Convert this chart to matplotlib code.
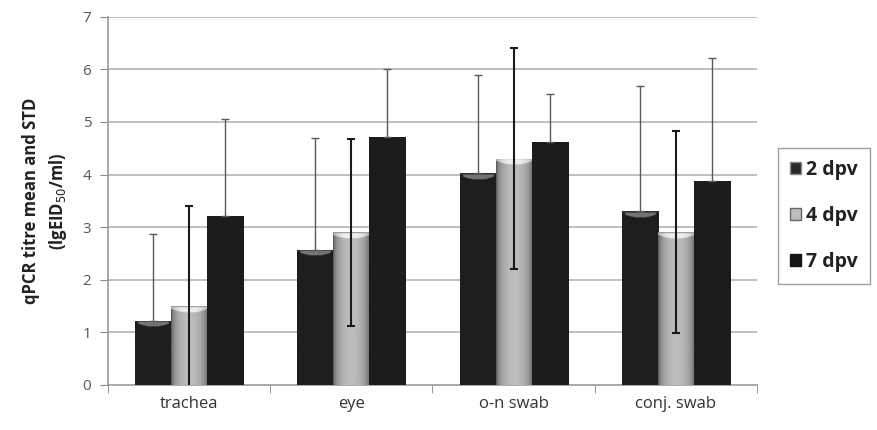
import numpy as np
import matplotlib
matplotlib.use("Agg")
import matplotlib.pyplot as plt
from matplotlib.patches import Patch

plt.rcParams['font.family'] = ['Open Sans', 'DejaVu Sans']

categories = ["trachea", "eye", "o-n swab", "conj. swab"]
series = ["2 dpv", "4 dpv", "7 dpv"]
means_2dpv = [1.22, 2.57, 4.03, 3.30]
means_4dpv = [1.50, 2.90, 4.30, 2.90]
means_7dpv = [3.22, 4.72, 4.62, 3.88]
std_2dpv = [1.65, 2.13, 1.87, 2.38]
std_4dpv = [1.90, 1.78, 2.10, 1.92]
std_7dpv = [1.83, 1.28, 0.91, 2.33]
yticks = [0, 1, 2, 3, 4, 5, 6, 7]

fig = plt.figure(figsize=(8.78, 4.30), dpi=100)
ax = fig.add_axes([0.123, 0.105, 0.739, 0.856])

x = np.arange(len(categories))
w = 0.222
offsets = [-w, 0, w]
means = [means_2dpv, means_4dpv, means_7dpv]
stds = [std_2dpv, std_4dpv, std_7dpv]

for gl in yticks[1:]:
    ax.axhline(gl, color='#b4b4b4', lw=1.2, zorder=0)

def bar_image(h, kind):
    ny = max(int(h / 0.01), 4)
    nx = 60
    xs = np.linspace(-1, 1, nx)
    ys = np.linspace(0, h, ny)
    X, Y = np.meshgrid(xs, ys)
    depth = h - Y
    if kind == 1:
        img = 0.32 + 0.42 * np.sqrt(np.clip(1 - X**2, 0, 1))
        cap = 0.05 + 0.07 * (1 - X**2)
        img = np.where(depth < cap, 0.93 - 0.25 * np.abs(X)**3, img)
        img = np.where(depth < 0.02, 0.6, img)
    elif kind == 0:
        img = np.full_like(X, 0.12)
        cap = 0.04 + 0.08 * (1 - X**2)
        img = np.where((depth < cap) & (np.abs(X) < 0.85), 0.45, img)
        img = np.where(depth < 0.025, 0.2, img)
    else:
        img = np.full_like(X, 0.11)
    return img

for i, (m, s) in enumerate(zip(means, stds)):
    fc = ['#1e1e1e', '#a8a8a8', '#1a1a1a'][i]
    bars = ax.bar(x + offsets[i], m, width=w, color=fc, edgecolor='none', zorder=2,
                  label=series[i])
    for rect in bars:
        x0, y0 = rect.get_x(), rect.get_y()
        bw, bh = rect.get_width(), rect.get_height()
        img = bar_image(bh, i)
        im = ax.imshow(img, extent=[x0, x0 + bw, y0, y0 + bh], origin='lower',
                       aspect='auto', cmap='gray', vmin=0, vmax=1, zorder=3,
                       interpolation='bilinear')
        im.set_clip_path(rect)

for i, (m, s) in enumerate(zip(means, stds)):
    col = ['#5a5a5a', '#1a1a1a', '#5a5a5a'][i]
    lw = [1.0, 1.5, 1.0][i]
    if i == 1:
        yerr = s
    else:
        yerr = [np.zeros(len(s)), s]
    ax.errorbar(x + offsets[i], m, yerr=yerr, fmt='none', ecolor=col, elinewidth=lw,
                capsize=3, capthick=lw, zorder=5)

ax.set_xlim(-0.5, len(categories) - 0.5)
ax.set_ylim(0, 7)
ax.set_yticks(yticks)
ax.set_yticklabels([str(t) for t in yticks], fontsize=11, color='#555555')
ax.set_xticks(x)
ax.set_xticklabels(categories, fontsize=12, color='#333333')
ax.tick_params(axis='x', length=0, pad=8)
ax.set_xticks(np.arange(-0.5, len(categories), 1), minor=True)
ax.tick_params(axis='x', which='minor', length=6, color='#888888', direction='out')
ax.tick_params(axis='y', length=6, color='#888888', direction='out', pad=6)

for sp in ['top', 'right']:
    ax.spines[sp].set_visible(False)
for sp in ['left', 'bottom']:
    ax.spines[sp].set_color('#999999')
    ax.spines[sp].set_linewidth(1.2)

ax.set_ylabel("qPCR titre mean and STD\n(lgEID$_{50}$/ml)", fontsize=12,
              fontweight='bold', color='#222222', labelpad=10, linespacing=1.4)

handles = [Patch(facecolor='#2a2a2a', edgecolor='#888888'),
           Patch(facecolor='#bdbdbd', edgecolor='#666666'),
           Patch(facecolor='#151515', edgecolor='#151515')]
leg = fig.legend(handles, series, loc='upper left', bbox_to_anchor=(0.886, 0.656),
                 frameon=True, fancybox=False, edgecolor='#888888', fontsize=14,
                 labelspacing=1.35, handlelength=0.6, handleheight=0.6,
                 handletextpad=0.25, borderpad=0.6, borderaxespad=0)
for t in leg.get_texts():
    t.set_fontweight('bold')
    t.set_color('#222222')
leg.get_frame().set_linewidth(1.0)

fig.savefig("out.png", dpi=100)
